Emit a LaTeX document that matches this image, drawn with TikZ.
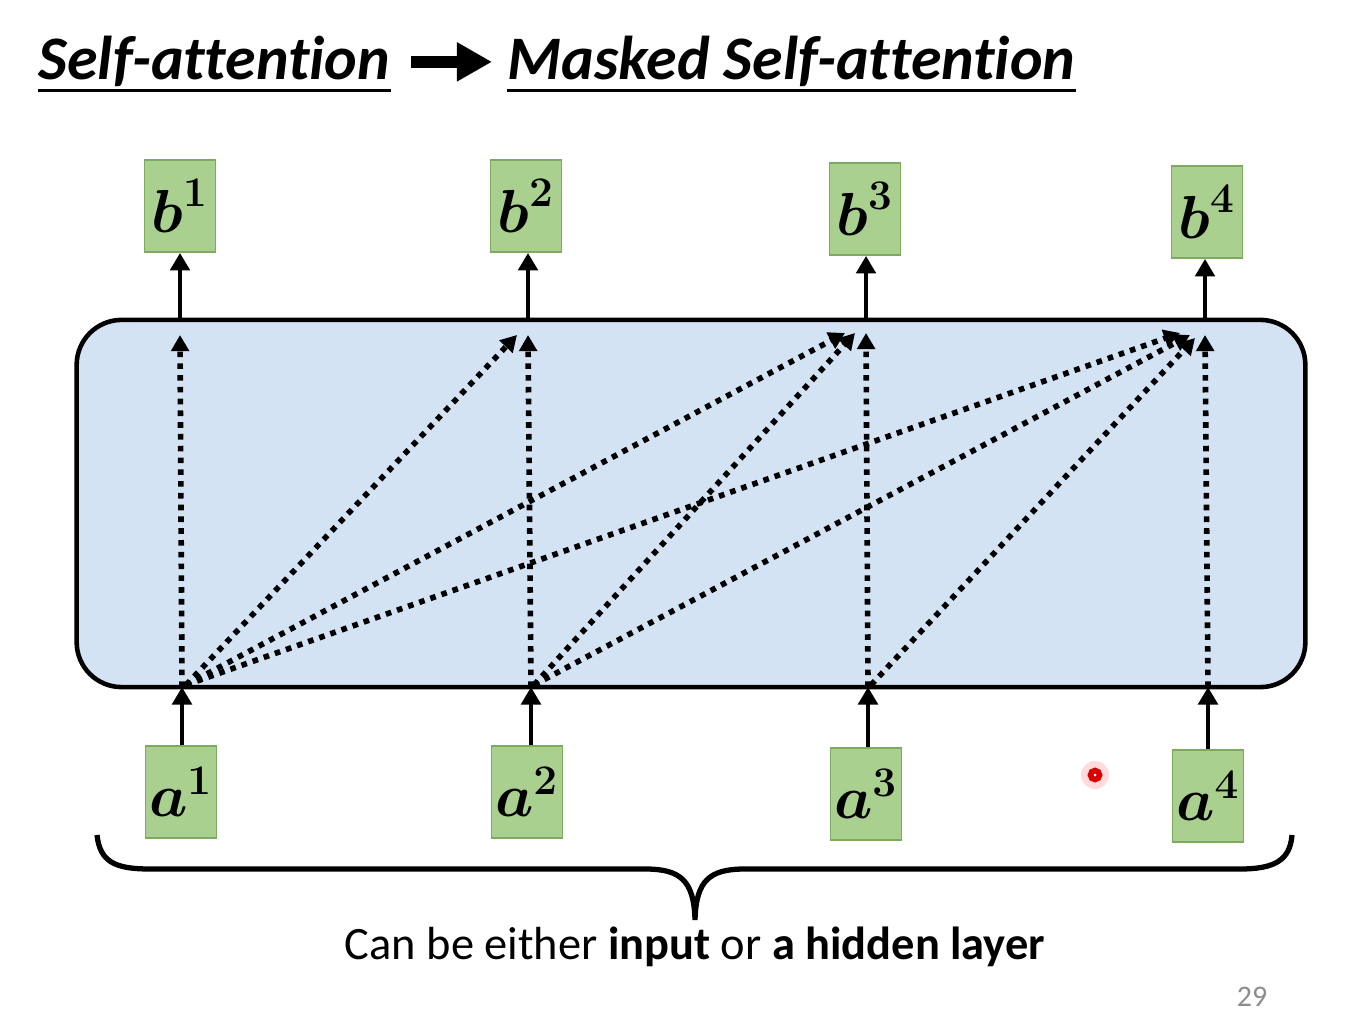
\documentclass[tikz,border=0pt]{standalone}
\usepackage{amsmath}
\usepackage[no-math]{fontspec}
\setmainfont{Carlito}[Ligatures=NoCommon]
\usetikzlibrary{arrows.meta,calc}
\definecolor{boxgreen}{RGB}{170,208,143}
\definecolor{boxedge}{RGB}{125,170,95}
\definecolor{attnblue}{RGB}{212,227,244}
\tikzset{
  vec/.style={draw=boxedge,fill=boxgreen,line width=0.5pt,minimum width=0.71cm,minimum height=0.92cm,inner sep=0pt,font=\fontsize{17}{20}\selectfont},
  solidarr/.style={line width=1.3pt,-{Triangle[length=5pt,width=5.5pt]}},
  dotarr/.style={line width=1.6pt,dash pattern=on 1.6pt off 1.75pt,-{Triangle[length=4.6pt,width=5pt]}},
  titletext/.style={inner sep=0pt,font=\fontsize{17.6}{21}\selectfont\bfseries\itshape}
}
\begin{document}
\begin{tikzpicture}[x=0.01cm,y=-0.01cm]
\useasboundingbox (0,0) rectangle (1346,1010);
% title
\node[titletext,anchor=base west] (title1) at (38,80) {Self-attention};
\node[titletext,anchor=base west] (title2) at (507,80) {Masked Self-attention};
\draw[line width=0.8pt] ($(title1.south west)+(0,3)$) -- ($(title1.south east)+(0,3)$);
\draw[line width=0.8pt] ($(title2.south west)+(0,3)$) -- ($(title2.south east)+(0,3)$);
\draw[line width=3.6pt,-{Triangle[length=10pt,width=10.5pt]},shorten <=0.2cm,shorten >=0.15cm] (title1.east) -- (title2.west);
% attention block
\node[draw,line width=1.3pt,fill=attnblue,rounded corners=0.45cm,minimum width=12.28cm,minimum height=3.67cm,inner sep=0pt] (attn) at (691,503.5) {};
% outputs
\node[vec] (b1) at (180,206) {$\boldsymbol{b}^{\mathbf{1}}$};
\node[vec] (b2) at (526,206) {$\boldsymbol{b}^{\mathbf{2}}$};
\node[vec] (b3) at (865,209) {$\boldsymbol{b}^{\mathbf{3}}$};
\node[vec] (b4) at (1207,212) {$\boldsymbol{b}^{\mathbf{4}}$};
% inputs
\node[vec] (a1) at (181,792) {$\boldsymbol{a}^{\mathbf{1}}$};
\node[vec] (a2) at (527,792) {$\boldsymbol{a}^{\mathbf{2}}$};
\node[vec] (a3) at (866,794) {$\boldsymbol{a}^{\mathbf{3}}$};
\node[vec] (a4) at (1208,796) {$\boldsymbol{a}^{\mathbf{4}}$};
% in / out points on the block
\coordinate (in1) at (182,687);
\coordinate (in2) at (531,687);
\coordinate (in3) at (868,687);
\coordinate (in4) at (1208,687);
\coordinate (out1) at (180,321);
\coordinate (out2) at (528,321);
\coordinate (out3) at (866,321);
\coordinate (out4) at (1205,321);
\draw[solidarr] (a1.north -| in1) -- (in1);
\draw[solidarr] (a2.north -| in2) -- (in2);
\draw[solidarr] (a3.north -| in3) -- (in3);
\draw[solidarr] (a4.north -| in4) -- (in4);
\draw[solidarr] (out1) -- (out1 |- b1.south);
\draw[solidarr] (out2) -- (out2 |- b2.south);
\draw[solidarr] (out3) -- (out3 |- b3.south);
\draw[solidarr] (out4) -- (out4 |- b4.south);
% masked connections
\draw[dotarr] (in1) -- ($(out1)+(0,14)$);
\draw[dotarr] ($(in1)+(4,-2)$) -- ($(out2)+(-11,14)$);
\draw[dotarr] ($(in1)+(4,-2)$) -- ($(out3)+(-21,12)$);
\draw[dotarr] ($(in1)+(4,-2)$) -- ($(out4)+(-25,12)$);
\draw[dotarr] (in2) -- ($(out2)+(0,14)$);
\draw[dotarr] ($(in2)+(3,-2)$) -- ($(out3)+(-11,12)$);
\draw[dotarr] ($(in2)+(3,-2)$) -- ($(out4)+(-15,14)$);
\draw[dotarr] (in3) -- ($(out3)+(0,12)$);
\draw[dotarr] ($(in3)+(3,-2)$) -- ($(out4)+(-10,17)$);
\draw[dotarr] (in4) -- ($(out4)+(0,14)$);
% brace
\draw[line width=1.5pt] (97,835) .. controls (100,862) and (115,869) .. (150,869)
  -- (645,869) .. controls (680,869) and (694,880) .. (695,920)
  .. controls (696,880) and (710,869) .. (745,869)
  -- (1240,869) .. controls (1275,869) and (1290,860) .. (1292,835);
\node[font=\fontsize{13.2}{16}\selectfont] (note) at (695,947) {Can be either \textbf{input} or \textbf{a hidden layer}};
% pointer and page number
\fill[red!20,opacity=0.7] (1095,775) circle (14);
\draw[red!85!black,line width=1.6pt,fill=white] (1095,775) circle (4.5);
\node[font=\fontsize{8.5}{10}\selectfont,text=black!45,inner sep=0pt] (page) at (1252,997) {29};
\end{tikzpicture}
\end{document}
